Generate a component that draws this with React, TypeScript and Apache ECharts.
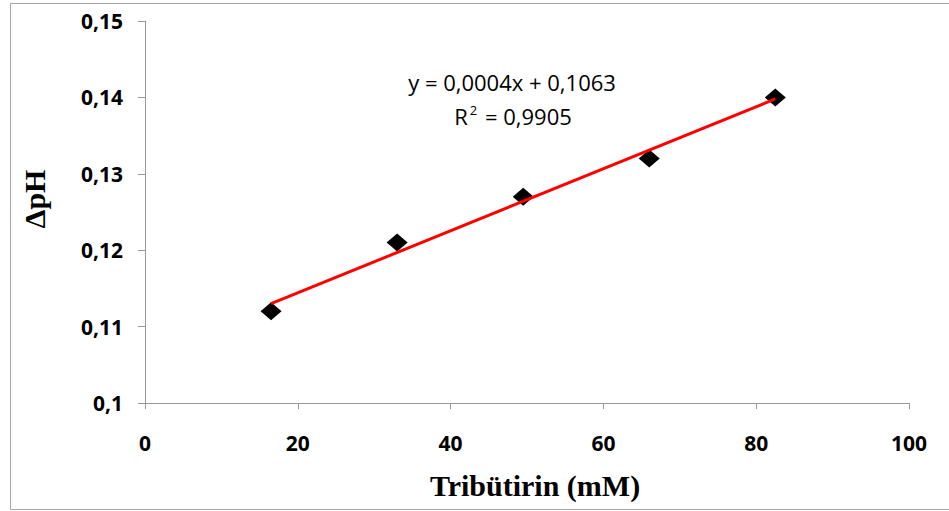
import React, { useEffect, useRef } from "react";
import * as echarts from "echarts";

const concentrations = [16.5, 33, 49.5, 66, 82.5];
const deltaPH = [0.112, 0.121, 0.127, 0.132, 0.14];
const trendX = [16.5, 82.5];
const trendY = [0.113, 0.1398];
const equationText = "y = 0,0004x + 0,1063";
const r2Value = "0,9905";
const xAxisName = "Tribütirin (mM)";
const yAxisName = "ΔpH";

export default function App() {
  const ref = useRef<HTMLDivElement>(null);
  useEffect(() => {
    if (!ref.current) return;
    const chart = echarts.init(ref.current, null, { renderer: "svg" });
    const labelFont = "'Noto Sans', 'Open Sans', sans-serif";
    const eqFont = "'Open Sans', 'Noto Sans', sans-serif";
    const serif = "'Liberation Serif', 'Times New Roman', serif";
    chart.setOption({
      animation: false,
      backgroundColor: "#ffffff",
      grid: { left: 145, right: 40, top: 21, bottom: 108, containLabel: false },
      xAxis: {
        type: "value",
        min: 0,
        max: 100,
        interval: 20,
        name: xAxisName,
        nameLocation: "middle",
        nameGap: 67,
        nameTextStyle: {
          fontFamily: serif,
          fontWeight: "bold",
          fontSize: 30,
          color: "#000",
          padding: [0, 0, 0, 16],
        },
        axisLine: { show: true, lineStyle: { color: "#999", width: 1 } },
        axisTick: { show: true, inside: false, length: 6, lineStyle: { color: "#999" } },
        axisLabel: {
          margin: 29,
          fontFamily: labelFont,
          fontWeight: "bold",
          fontSize: 21,
          color: "#000",
        },
        splitLine: { show: false },
      },
      yAxis: {
        type: "value",
        min: 0.1,
        max: 0.15,
        interval: 0.01,
        name: yAxisName,
        nameLocation: "middle",
        nameGap: 96,
        nameRotate: 90,
        nameTextStyle: {
          fontFamily: serif,
          fontWeight: "bold",
          fontSize: 30,
          color: "#000",
          padding: [0, 0, 0, 26],
        },
        axisLine: { show: true, lineStyle: { color: "#999", width: 1 } },
        axisTick: { show: true, inside: false, length: 7, lineStyle: { color: "#999" } },
        axisLabel: {
          margin: 22,
          fontFamily: labelFont,
          fontWeight: "bold",
          fontSize: 21,
          color: "#000",
          formatter: (v: number) => String(parseFloat(v.toFixed(4))).replace(".", ","),
        },
        splitLine: { show: false },
      },
      series: [
        {
          type: "scatter",
          data: concentrations.map((x, i) => [x, deltaPH[i]]),
          symbol: "diamond",
          symbolSize: [21, 18],
          itemStyle: { color: "#000", opacity: 1 },
          z: 2,
        },
        {
          type: "line",
          data: trendX.map((x, i) => [x, trendY[i]]),
          showSymbol: false,
          symbol: "none",
          lineStyle: { color: "#ff0000", width: 3 },
          z: 3,
        },
      ],
      graphic: [
        {
          type: "rect",
          shape: { x: 10.5, y: 3.5, width: 1000, height: 506 },
          style: { fill: "none", stroke: "#a6a6a6", lineWidth: 1 },
          z: 0,
        },
        {
          type: "text",
          x: 512,
          y: 82,
          style: {
            text: equationText,
            fontFamily: eqFont,
            fontSize: 22,
            fill: "#000",
            align: "center",
            verticalAlign: "middle",
          },
        },
        {
          type: "text",
          x: 513,
          y: 116,
          style: {
            text: "{r|R}{sup|2}{r| = " + r2Value + "}",
            fontFamily: eqFont,
            fontSize: 22,
            fill: "#000",
            align: "center",
            verticalAlign: "middle",
            rich: {
              r: { fontFamily: eqFont, fontSize: 22, fill: "#000" },
              sup: {
                fontFamily: eqFont,
                fontSize: 13,
                fill: "#000",
                verticalAlign: "top",
                padding: [0, 2, 12, 2],
              },
            },
          },
        },
      ],
    });
    return () => chart.dispose();
  }, []);
  return (
    <div
      ref={ref}
      style={{ position: "fixed", left: 0, top: 0, width: 949, height: 511 }}
    />
  );
}
